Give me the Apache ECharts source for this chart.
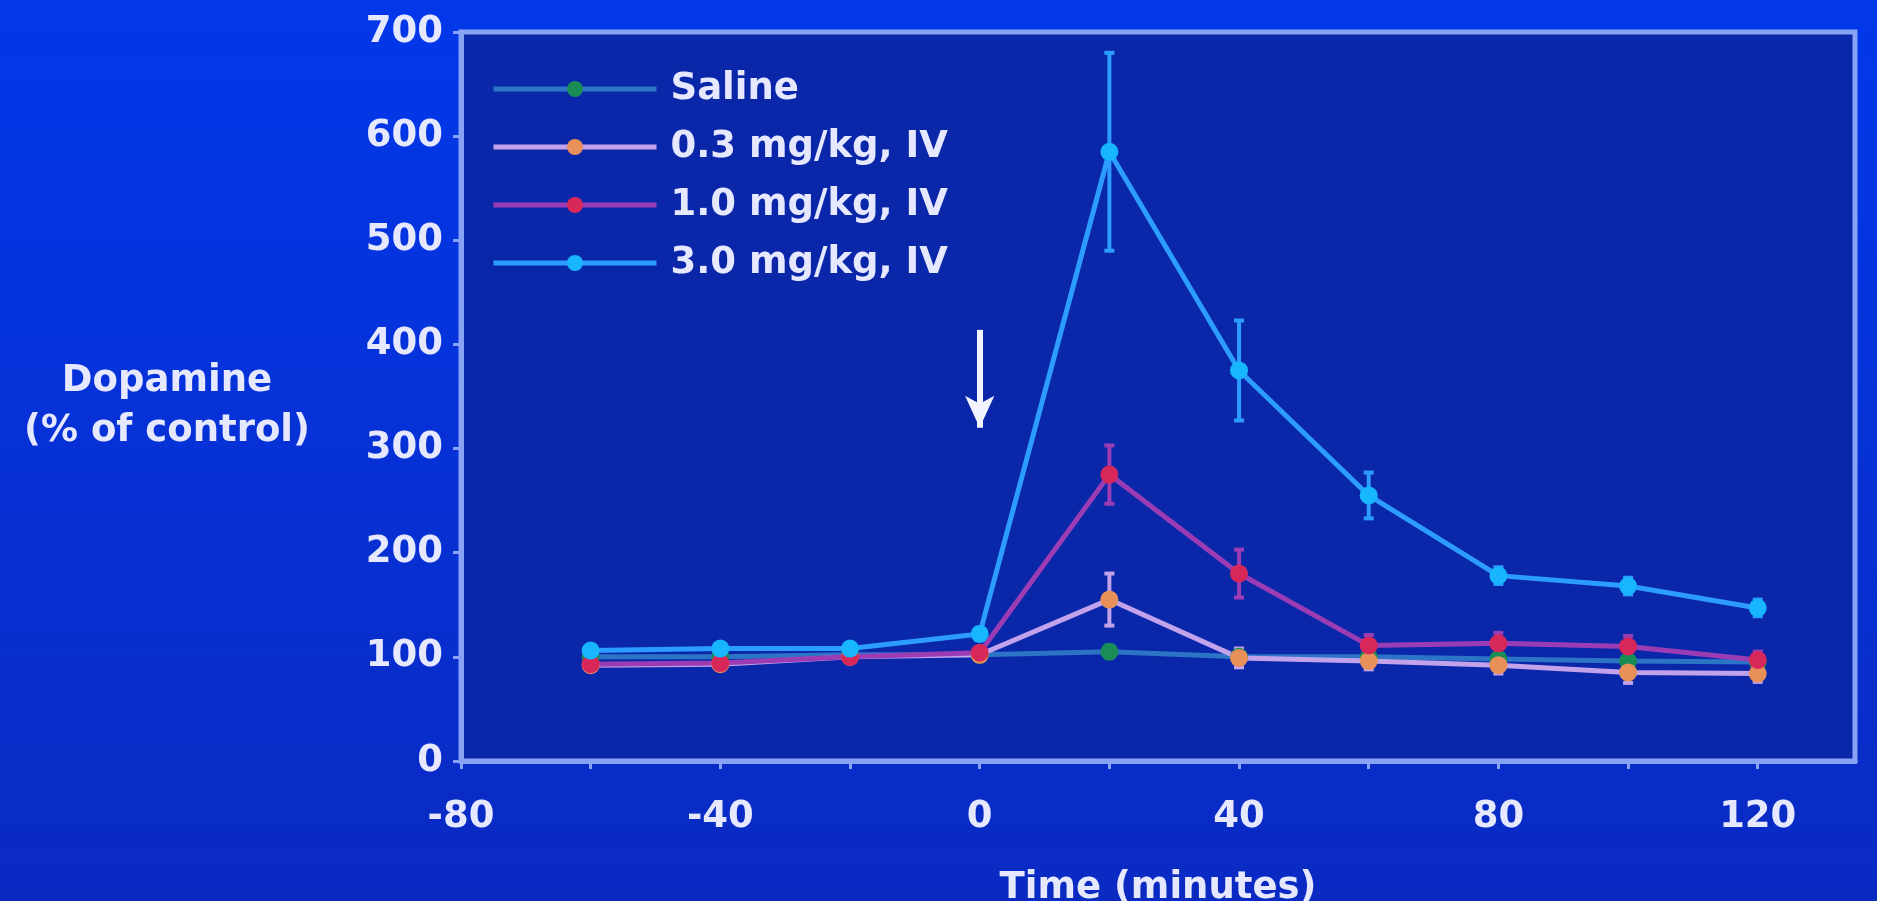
<!DOCTYPE html>
<html>
<head>
<meta charset="utf-8">
<script src="https://cdn.jsdelivr.net/npm/echarts@6/dist/echarts.min.js"></script>
<style>
html,body{margin:0;padding:0;background:#0434e0;}
#chart{width:1877px;height:901px;}
</style>
</head>
<body>
<div id="chart"></div>
<script>
// ---- data ----
const times = [-60, -40, -20, 0, 20, 40, 60, 80, 100, 120];
const seriesNames = ['Saline', '0.3 mg/kg, IV', '1.0 mg/kg, IV', '3.0 mg/kg, IV'];
const saline = [100, 100, 102, 102, 105, 100, 100, 98, 96, 95];
const dose03 = [92, 93, 100, 102, 155, 99, 96, 92, 85, 84];
const dose10 = [93, 94, 100, 104, 275, 180, 111, 113, 110, 97];
const dose30 = [106, 108, 108, 122, 585, 375, 255, 178, 168, 147];
const salineErr = [4, 4, 4, 4, 6, 5, 5, 5, 5, 5];
const dose03Err = [5, 5, 5, 5, 25, 9, 8, 8, 10, 8];
const dose10Err = [5, 5, 5, 5, 28, 23, 10, 10, 10, 8];
const dose30Err = [5, 5, 5, 6, 95, 48, 22, 8, 8, 8];
const xTicks = [-80, -40, 0, 40, 80, 120];
const yTicks = [0, 100, 200, 300, 400, 500, 600, 700];
const arrowFrom = [0, 414];
const arrowTo = [0, 320];

const lineColors = ['#2c74c6', '#c2a2ea', '#9c3cb4', '#2c9cff'];
const markerColors = ['#1a8c55', '#e8905a', '#d8285a', '#18b6ff'];
const allVals = [saline, dose03, dose10, dose30];
const allErrs = [salineErr, dose03Err, dose10Err, dose30Err];

const FONT = '"DejaVu Sans", sans-serif';
const TXT = '#e6e8ff';
const AXIS = '#88a2f6';

const series = [];
allVals.forEach((vals, i) => {
  series.push({
    name: 'err' + i,
    type: 'custom',
    z: 1,
    silent: true,
    data: times.map((t, k) => [t, vals[k], allErrs[i][k]]),
    renderItem: function (params, api) {
      const x = api.value(0), y = api.value(1), e = api.value(2);
      const top = api.coord([x, y + e]);
      const bot = api.coord([x, y - e]);
      const c = lineColors[i];
      return {
        type: 'group',
        children: [
          {type: 'line', shape: {x1: top[0], y1: top[1], x2: bot[0], y2: bot[1]}, style: {stroke: c, lineWidth: 4}},
          {type: 'line', shape: {x1: top[0] - 5, y1: top[1], x2: top[0] + 5, y2: top[1]}, style: {stroke: c, lineWidth: 4}},
          {type: 'line', shape: {x1: bot[0] - 5, y1: bot[1], x2: bot[0] + 5, y2: bot[1]}, style: {stroke: c, lineWidth: 4}}
        ]
      };
    }
  });
});
allVals.forEach((vals, i) => {
  const s = {
    name: seriesNames[i],
    type: 'line',
    z: 3,
    data: times.map((t, k) => [t, vals[k]]),
    symbol: 'circle',
    symbolSize: 18,
    lineStyle: {color: lineColors[i], width: 5},
    itemStyle: {color: markerColors[i], borderWidth: 0},
    emphasis: {disabled: true},
    animation: false
  };
  if (i === 0) {
    s.markLine = {
      silent: true,
      symbol: ['none', 'arrow'],
      symbolSize: [22, 32],
      label: {show: false},
      lineStyle: {color: '#f2f4ff', width: 6, type: 'solid'},
      data: [[{coord: arrowFrom}, {coord: arrowTo}]]
    };
  }
  series.push(s);
});

const chart = echarts.init(document.getElementById('chart'));
chart.setOption({
  animation: false,
  backgroundColor: {
    type: 'linear', x: 0, y: 0, x2: 0, y2: 1,
    colorStops: [{offset: 0, color: '#0238ea'}, {offset: 1, color: '#0a2ac2'}]
  },
  textStyle: {fontFamily: FONT},
  grid: {
    left: 461, right: 22, top: 32, bottom: 140,
    containLabel: false,
    outerBoundsMode: 'none',
    show: true,
    backgroundColor: '#0a27aa',
    borderColor: AXIS,
    borderWidth: 5
  },
  legend: {
    data: seriesNames,
    orient: 'vertical',
    left: 486,
    top: 64,
    itemWidth: 163,
    itemHeight: 20,
    itemGap: 18,
    lineStyle: {width: 5},
    textStyle: {color: TXT, fontSize: 37, fontWeight: 'bold', fontFamily: FONT, lineHeight: 40, padding: [0, 0, 0, 9]}
  },
  xAxis: {
    type: 'value',
    min: -80,
    max: 135,
    interval: 20,
    name: 'Time (minutes)',
    nameLocation: 'middle',
    nameGap: 109,
    nameTextStyle: {color: TXT, fontSize: 37, fontWeight: 'bold', fontFamily: FONT},
    axisLine: {show: true, onZero: false, lineStyle: {color: AXIS, width: 5}},
    axisTick: {show: true, length: 8, lineStyle: {color: AXIS, width: 3}},
    axisLabel: {
      color: TXT, fontSize: 37, fontWeight: 'bold', fontFamily: FONT, margin: 38,
      showMaxLabel: false,
      formatter: function (v) { return xTicks.indexOf(v) >= 0 ? String(v) : ''; }
    },
    splitLine: {show: false}
  },
  yAxis: {
    type: 'value',
    min: 0,
    max: 700,
    interval: 100,
    axisLine: {show: true, onZero: false, lineStyle: {color: AXIS, width: 5}},
    axisTick: {show: true, length: 8, lineStyle: {color: AXIS, width: 3}},
    axisLabel: {
      color: TXT, fontSize: 37, fontWeight: 'bold', fontFamily: FONT, margin: 18,
      formatter: function (v) { return yTicks.indexOf(v) >= 0 ? String(v) : ''; }
    },
    splitLine: {show: false}
  },
  graphic: [
    {
      type: 'text', x: 167, y: 381,
      style: {text: 'Dopamine', fill: TXT, font: 'bold 37px ' + FONT, textAlign: 'center', textVerticalAlign: 'middle'}
    },
    {
      type: 'text', x: 167, y: 431,
      style: {text: '(% of control)', fill: TXT, font: 'bold 37px ' + FONT, textAlign: 'center', textVerticalAlign: 'middle'}
    }
  ],
  series: series
});
</script>
</body>
</html>
